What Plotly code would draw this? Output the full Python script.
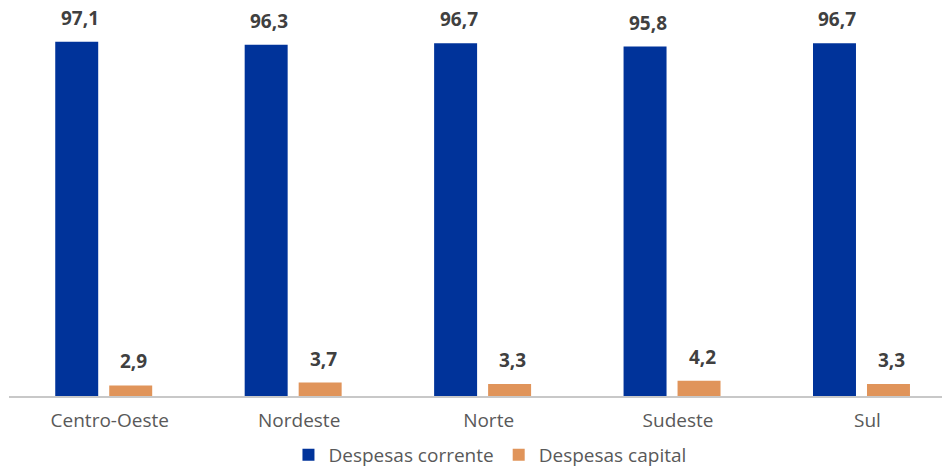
import plotly.graph_objects as go

regioes = ["Centro-Oeste", "Nordeste", "Norte", "Sudeste", "Sul"]
despesas_corrente = [97.1, 96.3, 96.7, 95.8, 96.7]
despesas_capital = [2.9, 3.7, 3.3, 4.2, 3.3]

AZUL = "#00339A"
LARANJA = "#E0945A"
FONTE = "Open Sans"
CINZA_TEXTO = "#595959"
CINZA_ROTULO = "#404040"

fig = go.Figure()
fig.add_trace(go.Bar(
    x=regioes, y=despesas_corrente, name="Despesas corrente",
    marker=dict(color=AZUL, line=dict(width=0)),
))
fig.add_trace(go.Bar(
    x=regioes, y=despesas_capital, name="Despesas capital",
    marker=dict(color=LARANJA, line=dict(width=0)),
))

# value labels above each bar (horizontal shift puts them over their own bar in the group)
for serie, deslocamento in ((despesas_corrente, -24), (despesas_capital, 30)):
    for regiao, valor in zip(regioes, serie):
        fig.add_annotation(
            x=regiao, y=valor, xref="x", yref="y",
            text=f"{valor:.1f}".replace(".", ","),
            showarrow=False, xanchor="center", yanchor="bottom",
            xshift=deslocamento, yshift=9,
            font=dict(family=FONTE, size=19, color=CINZA_ROTULO, weight="bold"),
        )

fig.update_layout(
    width=942, height=467,
    margin=dict(l=9, r=0, t=13, b=71, autoexpand=False),
    paper_bgcolor="white", plot_bgcolor="white",
    separators=",.",
    barmode="group", bargap=0.43, bargroupgap=0.204,
    font=dict(family=FONTE, color=CINZA_TEXTO, size=19),
    showlegend=True,
    legend=dict(
        orientation="h", x=0.5155, xanchor="center",
        yref="container", y=0.026, yanchor="middle",
        font=dict(family=FONTE, size=19, color=CINZA_TEXTO),
        itemwidth=30, tracegroupgap=0,
    ),
)
fig.update_xaxes(
    type="category", range=[-0.5, 4.425],
    showline=True, linecolor="#C8C8C8", linewidth=2,
    ticks="", showgrid=False, zeroline=False, automargin=False,
    ticklabelstandoff=6, ticklabelshift=6,
    tickfont=dict(family=FONTE, size=19, color=CINZA_TEXTO),
)
fig.update_yaxes(
    range=[0, 105], visible=False, showgrid=False, zeroline=False,
)

fig.write_html("out.html")
